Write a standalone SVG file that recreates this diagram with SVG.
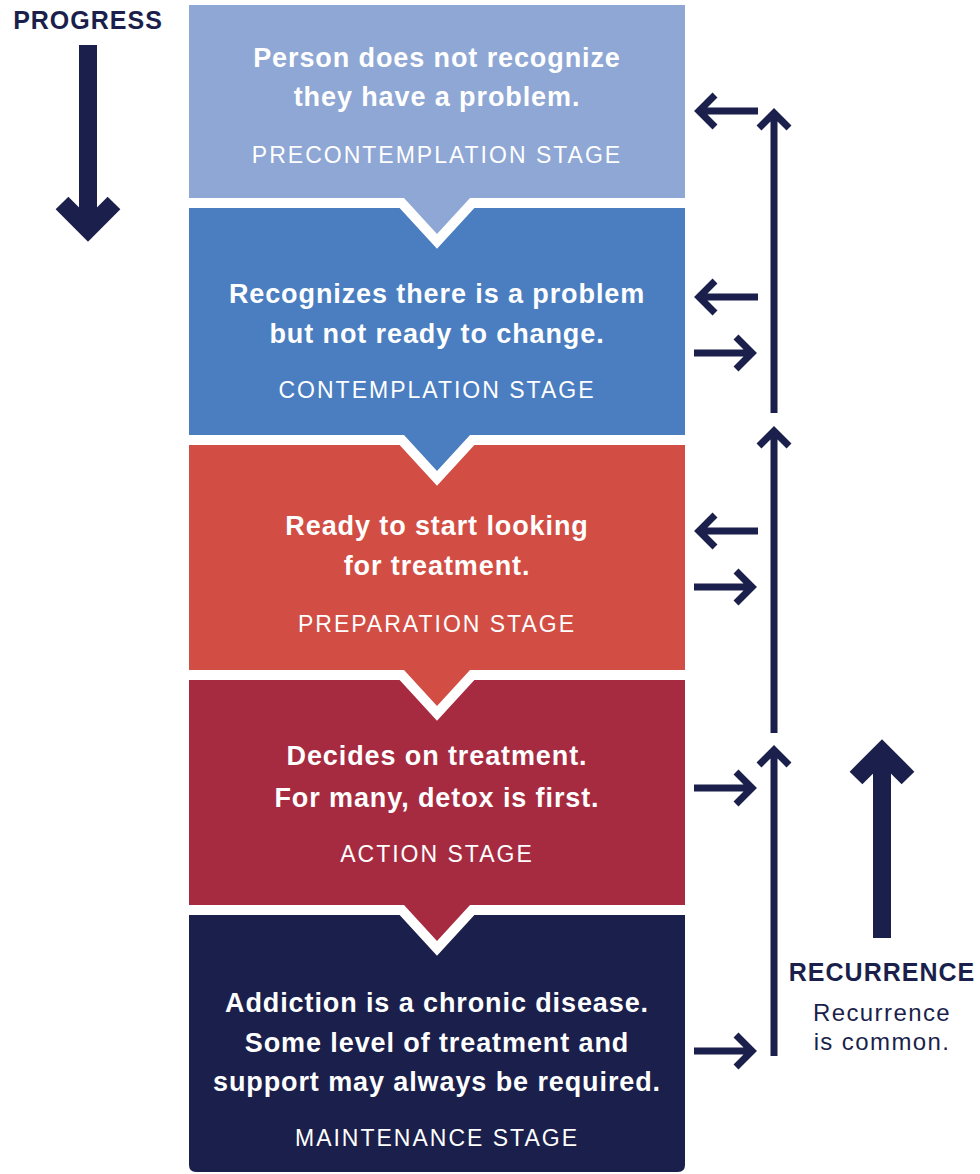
<svg xmlns="http://www.w3.org/2000/svg" width="980" height="1174" viewBox="0 0 980 1174">
  <style>
    .box { stroke: #ffffff; stroke-width: 20; stroke-linejoin: miter; paint-order: stroke; }
    .hd { font-family: "Liberation Sans", Arial, sans-serif; font-weight: bold; font-size: 27px; letter-spacing: 0.9px; fill: #ffffff; text-anchor: middle; }
    .st { font-family: "Liberation Sans", Arial, sans-serif; font-size: 23px; letter-spacing: 2px; fill: #ffffff; text-anchor: middle; }
    .lbl { font-family: "Liberation Sans", Arial, sans-serif; font-weight: bold; font-size: 25px; letter-spacing: 1px; fill: #1b1f4b; text-anchor: middle; }
    .note { font-family: "Liberation Sans", Arial, sans-serif; font-size: 24px; letter-spacing: 1.4px; fill: #1b1f4b; text-anchor: middle; }
    .thin { fill: none; stroke: #1b1f4b; stroke-width: 7; stroke-linejoin: miter; stroke-linecap: butt; }
    .thick { fill: none; stroke: #1b1f4b; stroke-width: 18; stroke-linejoin: miter; stroke-linecap: butt; }
  </style>

  <!-- stages, drawn bottom-up so each pointer overlaps the stage below -->
  <g id="maintenance">
    <path class="box" fill="#1b1f4b" d="M189,915 H685 V1165 Q685,1172 678,1172 H196 Q189,1172 189,1165 Z"/>
    <text class="hd" x="437" y="1012">Addiction is a chronic disease.</text>
    <text class="hd" x="437" y="1052">Some level of treatment and</text>
    <text class="hd" x="437" y="1091">support may always be required.</text>
    <text class="st" x="437" y="1146">MAINTENANCE STAGE</text>
  </g>
  <g id="action">
    <path class="box" fill="#a62b41" d="M189,680 H685 V905 H470 L437,941 L404,905 H189 Z"/>
    <text class="hd" x="437" y="765">Decides on treatment.</text>
    <text class="hd" x="437" y="807">For many, detox is first.</text>
    <text class="st" x="437" y="862">ACTION STAGE</text>
  </g>
  <g id="preparation">
    <path class="box" fill="#d24e45" d="M189,445 H685 V670 H470 L437,706 L404,670 H189 Z"/>
    <text class="hd" x="437" y="535">Ready to start looking</text>
    <text class="hd" x="437" y="575">for treatment.</text>
    <text class="st" x="437" y="632">PREPARATION STAGE</text>
  </g>
  <g id="contemplation">
    <path class="box" fill="#4a7ec0" d="M189,208 H685 V435 H470 L437,471 L404,435 H189 Z"/>
    <text class="hd" x="437" y="303">Recognizes there is a problem</text>
    <text class="hd" x="437" y="343">but not ready to change.</text>
    <text class="st" x="437" y="398">CONTEMPLATION STAGE</text>
  </g>
  <g id="precontemplation">
    <path class="box" fill="#8fa7d4" d="M189,5 H685 V198 H470 L437,234 L404,198 H189 Z"/>
    <text class="hd" x="437" y="67">Person does not recognize</text>
    <text class="hd" x="437" y="106">they have a problem.</text>
    <text class="st" x="437" y="163">PRECONTEMPLATION STAGE</text>
  </g>

  <!-- progress direction -->
  <g id="progress">
    <text class="lbl" x="88" y="29">PROGRESS</text>
    <path class="thick" d="M88,45 V224"/>
    <path class="thick" d="M62,203 L88,229 L114,203"/>
  </g>

  <!-- recurrence direction -->
  <g id="recurrence">
    <path class="thick" d="M882,938 V757"/>
    <path class="thick" d="M856,778 L882,752 L908,778"/>
    <text class="lbl" x="882" y="981">RECURRENCE</text>
    <text class="note" x="882" y="1021">Recurrence</text>
    <text class="note" x="882" y="1050">is common.</text>
  </g>

  <!-- connectors between stages -->
  <g id="connectors">
    <!-- upward returns -->
    <path class="thin" d="M774,413 V115 M759,128 L774,113 L789,128"/>
    <path class="thin" d="M774,733 V433 M759,446 L774,431 L789,446"/>
    <path class="thin" d="M774,1056 V752 M759,765 L774,750 L789,765"/>
    <!-- leftward: back into a stage -->
    <path class="thin" d="M758,111 H701 M715,95 L699,111 L715,127"/>
    <path class="thin" d="M758,297 H701 M715,281 L699,297 L715,313"/>
    <path class="thin" d="M758,531 H701 M715,515 L699,531 L715,547"/>
    <!-- rightward: out of a stage -->
    <path class="thin" d="M694,353 H750 M736,337 L752,353 L736,369"/>
    <path class="thin" d="M694,587 H750 M736,571 L752,587 L736,603"/>
    <path class="thin" d="M694,788 H750 M736,772 L752,788 L736,804"/>
    <path class="thin" d="M694,1051 H750 M736,1035 L752,1051 L736,1067"/>
  </g>
</svg>
